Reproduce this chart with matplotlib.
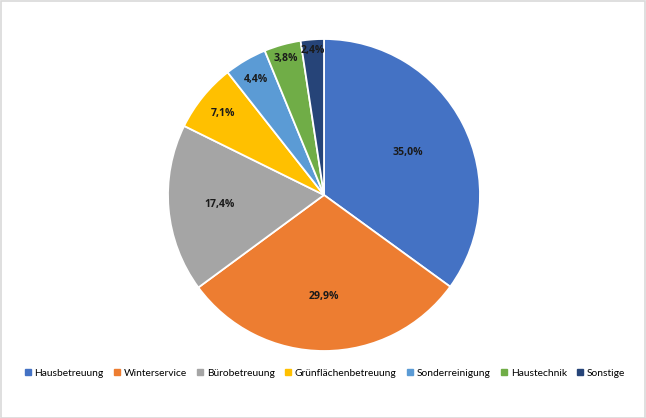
import numpy as np
import matplotlib
matplotlib.use('Agg')
import matplotlib.pyplot as plt
from matplotlib.patches import Rectangle
from matplotlib.lines import Line2D

# Chart data
categories = ['Hausbetreuung', 'Winterservice', 'Bürobetreuung', 'Grünflächenbetreuung',
              'Sonderreinigung', 'Haustechnik', 'Sonstige']
shares = [35.0, 29.9, 17.4, 7.1, 4.4, 3.8, 2.4]
colors = ['#4472C4', '#ED7D31', '#A5A5A5', '#FFC000', '#5B9BD5', '#70AD47', '#264478']

# radial position of each label (fraction of radius)
label_r = [0.60, 0.65, 0.67, 0.83, 0.86, 0.91, 0.93]

plt.rcParams['font.family'] = ['Lato', 'DejaVu Sans']

W, H = 646, 418
fig = plt.figure(figsize=(W / 100, H / 100), dpi=100)
fig.patches.append(Rectangle((0.5 / W, 0.5 / H), 1 - 1.5 / W, 1 - 1.5 / H,
                             transform=fig.transFigure, fill=False,
                             edgecolor='#D9D9D9', linewidth=1.2))

cx, cy, r = 324, 195, 156
ax = fig.add_axes([(cx - r) / W, (H - cy - r) / H, 2 * r / W, 2 * r / H])
wedges, _ = ax.pie(shares, colors=colors, startangle=90, counterclock=False,
                   radius=1, wedgeprops=dict(edgecolor='white', linewidth=1.3))
ax.set_xlim(-1, 1)
ax.set_ylim(-1, 1)
ax.set_aspect('equal')
ax.axis('off')

for w, val, lr in zip(wedges, shares, label_r):
    ang = np.deg2rad((w.theta1 + w.theta2) / 2)
    ax.text(lr * np.cos(ang), lr * np.sin(ang), f'{val:.1f}%'.replace('.', ','),
            ha='center', va='center', fontsize=7.6, fontweight='bold',
            family=['Open Sans', 'DejaVu Sans'], color='#1a1a1a')

handles = [Line2D([], [], marker='s', linestyle='none', markersize=4.6,
                  markerfacecolor=c, markeredgecolor=c) for c in colors]
fig.legend(handles, categories, loc='center', bbox_to_anchor=(0.503, (H - 373) / H),
           ncol=7, frameon=False, fontsize=7.4, handlelength=0.6,
           handletextpad=0.35, columnspacing=1.0, borderaxespad=0)

fig.savefig('out.png', dpi=100)
